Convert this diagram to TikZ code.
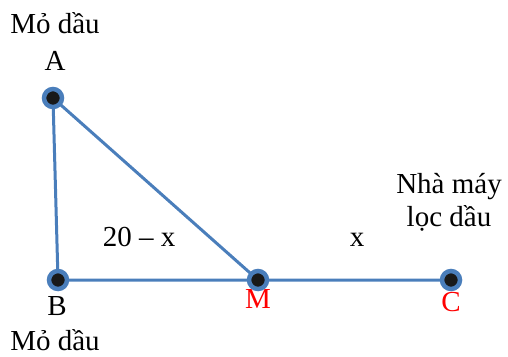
\documentclass[tikz,border=0pt]{standalone}
\usepackage{fontspec}
\setmainfont{Liberation Serif}
\definecolor{lineblue}{HTML}{4A7EBB}
\begin{document}
\begin{tikzpicture}[x=1pt,y=-1pt,
  seg/.style={draw=lineblue,line width=3pt},
  pt/.style={circle,fill=black!90,draw=lineblue,line width=4.5pt,minimum size=18pt,inner sep=0pt},
  lbl/.style={anchor=base,inner sep=0pt,font=\fontsize{29}{34}\selectfont},
  redlbl/.style={lbl,text=red}]
\useasboundingbox (0,0) rectangle (508,356);
\coordinate (A) at (53,98);
\coordinate (B) at (58,280);
\coordinate (M) at (258,280);
\coordinate (C) at (451,280);
\draw[seg] (A) -- (B) -- (M) -- (C);
\draw[seg] (A) -- (M);
\node[pt] (pA) at (A) {};
\node[pt] (pB) at (B) {};
\node[pt] (pM) at (M) {};
\node[pt] (pC) at (C) {};
\node[lbl] (t1) at (55,33) {Mỏ dầu};
\node[lbl] (tA) at (55,70) {A};
\node[lbl] (tN) at (449,193) {Nhà máy};
\node[lbl] (tL) at (449,226) {lọc dầu};
\node[lbl] (t20) at (139,246) {20 – x};
\node[lbl] (tx) at (357,246) {x};
\node[lbl] (tB) at (57,315) {B};
\node[lbl] (t2) at (55,350) {Mỏ dầu};
\node[redlbl] (tM) at (258,308) {M};
\node[redlbl] (tC) at (451,311) {C};
\end{tikzpicture}
\end{document}
